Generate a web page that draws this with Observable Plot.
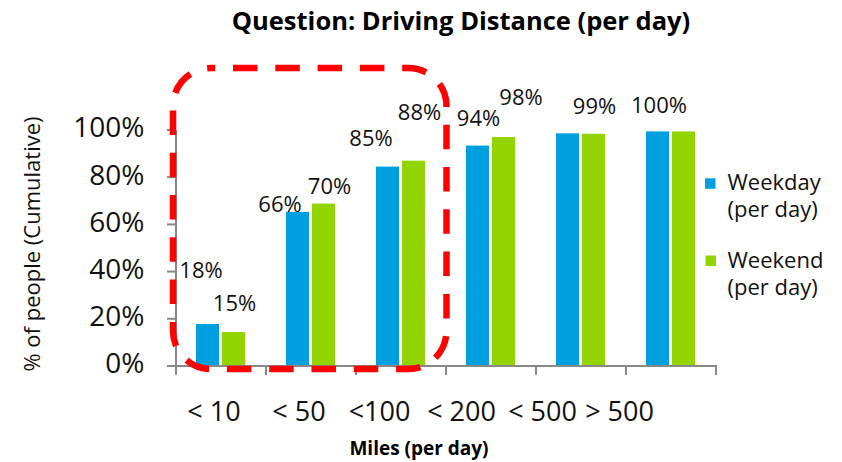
<!DOCTYPE html>
<html><head><meta charset="utf-8">
<script src="https://cdn.jsdelivr.net/npm/d3@7"></script>
<script src="https://cdn.jsdelivr.net/npm/@observablehq/plot@0.6"></script>
<style>
html,body{margin:0;padding:0;background:#fff;}
#chart{width:842px;height:462px;}
</style></head><body><div id="chart"></div>
<script>
// ---- data ----
const title = "Question: Driving Distance (per day)";
const xTitle = "Miles (per day)";
const yTitle = "% of people (Cumulative)";
const categories = ["< 10", "< 50", "<100", "< 200", "< 500", "> 500"];
const series = ["Weekday (per day)", "Weekend (per day)"];
const weekday = [17.8, 65.3, 84.5, 93.4, 98.6, 99.4];
const weekend = [14.4, 68.8, 87.0, 97.0, 98.4, 99.4];
const weekdayLabels = ["18%", "66%", "85%", "94%", null, "100%"];
const weekendLabels = ["15%", "70%", "88%", "98%", "99%", null];
const yTicks = [0, 20, 40, 60, 80, 100];
const highlighted = ["< 10", "< 50", "<100"];

// ---- layout / style (pixel nudges, not data) ----
const colors = ["#009FDF", "#92D400"];
const font = "'Open Sans', 'Noto Sans', sans-serif";
const barOffset = [-13.5, 12.5];            // bar centre relative to band centre
const weekdayNudge = [[-7,-54],[-18,-7],[-17,-28],[0.5,-27],[0,-27],[1,-26]];
const weekendNudge = [[0.5,-28.5],[5.5,-17],[5.5,-48.7],[17,-40],[0.5,-27],[0,-27]];
const xLabelNudge = [-7.5, -12.5, -22, -30, -39, -52];
const axisColor = "#888888";

const rowsWeekday = categories.map((c, i) => ({category: c, value: weekday[i], label: weekdayLabels[i], i}));
const rowsWeekend = categories.map((c, i) => ({category: c, value: weekend[i], label: weekendLabels[i], i}));

function bandInfo(scales, dims) {
  const x = scales.x;
  const bw = typeof x.bandwidth === "function" ? x.bandwidth()
    : (dims.width - dims.marginLeft - dims.marginRight) / categories.length;
  return {x, bw};
}

function axesMark(index, scales, values, dims) {
  const {x, bw} = bandInfo(scales, dims);
  const y = scales.y;
  const g = d3.create("svg:g").attr("stroke", axisColor).attr("stroke-width", 2).attr("fill", "none");
  const xs = categories.map(c => x(c)).concat([x(categories[categories.length - 1]) + bw]);
  const yb = y(0), yt = y(100);
  // x axis
  g.append("line").attr("x1", xs[0] - 1).attr("x2", xs[xs.length - 1] + 1).attr("y1", yb).attr("y2", yb);
  for (const xv of xs) g.append("line").attr("x1", xv).attr("x2", xv).attr("y1", yb).attr("y2", yb + 9);
  // y axis
  g.append("line").attr("x1", xs[0]).attr("x2", xs[0]).attr("y1", yt).attr("y2", yb);
  for (const t of yTicks) g.append("line").attr("x1", xs[0] - 9).attr("x2", xs[0]).attr("y1", y(t)).attr("y2", y(t));
  // legend swatches
  const right = dims.width - dims.marginRight;
  const top = dims.marginTop;
  const sw = [[right - 11, top + 48.3], [right - 10.5, top + 125.5]];
  sw.forEach(([sx, sy], k) => g.append("rect").attr("x", sx).attr("y", sy).attr("width", 10.5).attr("height", 10.5)
      .attr("fill", colors[k]).attr("stroke", "none"));
  return g.node();
}

function highlightMark(index, scales, values, dims) {
  const {x, bw} = bandInfo(scales, dims);
  const y = scales.y;
  const x1 = x(highlighted[0]) - 3;
  const x2 = x(highlighted[highlighted.length - 1]) + bw + 0.5;
  const y1 = y(100) - 62;
  const y2 = y(0) + 3;
  return d3.create("svg:rect")
    .attr("x", x1).attr("y", y1).attr("width", x2 - x1).attr("height", y2 - y1)
    .attr("rx", 38).attr("ry", 38)
    .attr("fill", "none").attr("stroke", "#FF0000").attr("stroke-width", 6.5)
    .attr("stroke-dasharray", "24.5 17.8").attr("stroke-dashoffset", 20.3)
    .node();
}

const labelMarks = [];
categories.forEach((c, i) => {
  if (weekdayLabels[i]) labelMarks.push(Plot.text([rowsWeekday[i]], {
    x: "category", y: "value", text: "label", fontSize: 22, fill: "#111", lineAnchor: "middle",
    dx: barOffset[0] + weekdayNudge[i][0], dy: weekdayNudge[i][1]}));
  if (weekendLabels[i]) labelMarks.push(Plot.text([rowsWeekend[i]], {
    x: "category", y: "value", text: "label", fontSize: 22, fill: "#111", lineAnchor: "middle",
    dx: barOffset[1] + weekendNudge[i][0], dy: weekendNudge[i][1]}));
});

const xLabelMarks = categories.map((c, i) => Plot.text([c], {
  x: d => d, text: d => d, frameAnchor: "bottom", lineAnchor: "middle", textAnchor: "middle",
  dy: 46, dx: xLabelNudge[i], fontSize: 27, fill: "#111"}));

const chart = Plot.plot({
  width: 842, height: 462,
  marginLeft: 176, marginRight: 126, marginTop: 130, marginBottom: 96,
  style: {fontFamily: font, background: "#fff", color: "#111", overflow: "visible"},
  x: {domain: categories, padding: 0, axis: null},
  y: {domain: [0, 100], axis: null},
  marks: [
    Plot.barY(rowsWeekday, {x: "category", y: "value", fill: colors[0], insetLeft: 20, insetRight: 47}),
    Plot.barY(rowsWeekend, {x: "category", y: "value", fill: colors[1], insetLeft: 46, insetRight: 21}),
    axesMark,
    Plot.text(yTicks, {y: d => d, text: d => d + "%", frameAnchor: "left", textAnchor: "end", lineAnchor: "middle", dx: -32, dy: -2, fontSize: 28, fill: "#111"}),
    ...xLabelMarks,
    ...labelMarks,
    Plot.text([title], {text: d => d, frameAnchor: "top", textAnchor: "middle", lineAnchor: "middle", dx: 14.5, dy: -108.5, fontSize: 25.5, fontWeight: "bold", fill: "#000"}),
    Plot.text([xTitle], {text: d => d, frameAnchor: "bottom", textAnchor: "middle", lineAnchor: "middle", dx: -27.5, dy: 82, fontSize: 19, fontWeight: "bold", fill: "#000"}),
    Plot.text([yTitle], {text: d => d, frameAnchor: "left", textAnchor: "middle", lineAnchor: "middle", rotate: -90, dx: -144, dy: -4.5, fontSize: 22, fill: "#111"}),
    Plot.text([series[0]], {text: d => d.replace(" (", "\n("), frameAnchor: "top-right", textAnchor: "start", lineAnchor: "middle", dx: 11, dy: 64.2, fontSize: 22, lineHeight: 1.26, fill: "#111"}),
    Plot.text([series[1]], {text: d => d.replace(" (", "\n("), frameAnchor: "top-right", textAnchor: "start", lineAnchor: "middle", dx: 11, dy: 142, fontSize: 22, lineHeight: 1.26, fill: "#111"}),
    highlightMark
  ]
});
document.getElementById("chart").appendChild(chart);
</script>
</body></html>
